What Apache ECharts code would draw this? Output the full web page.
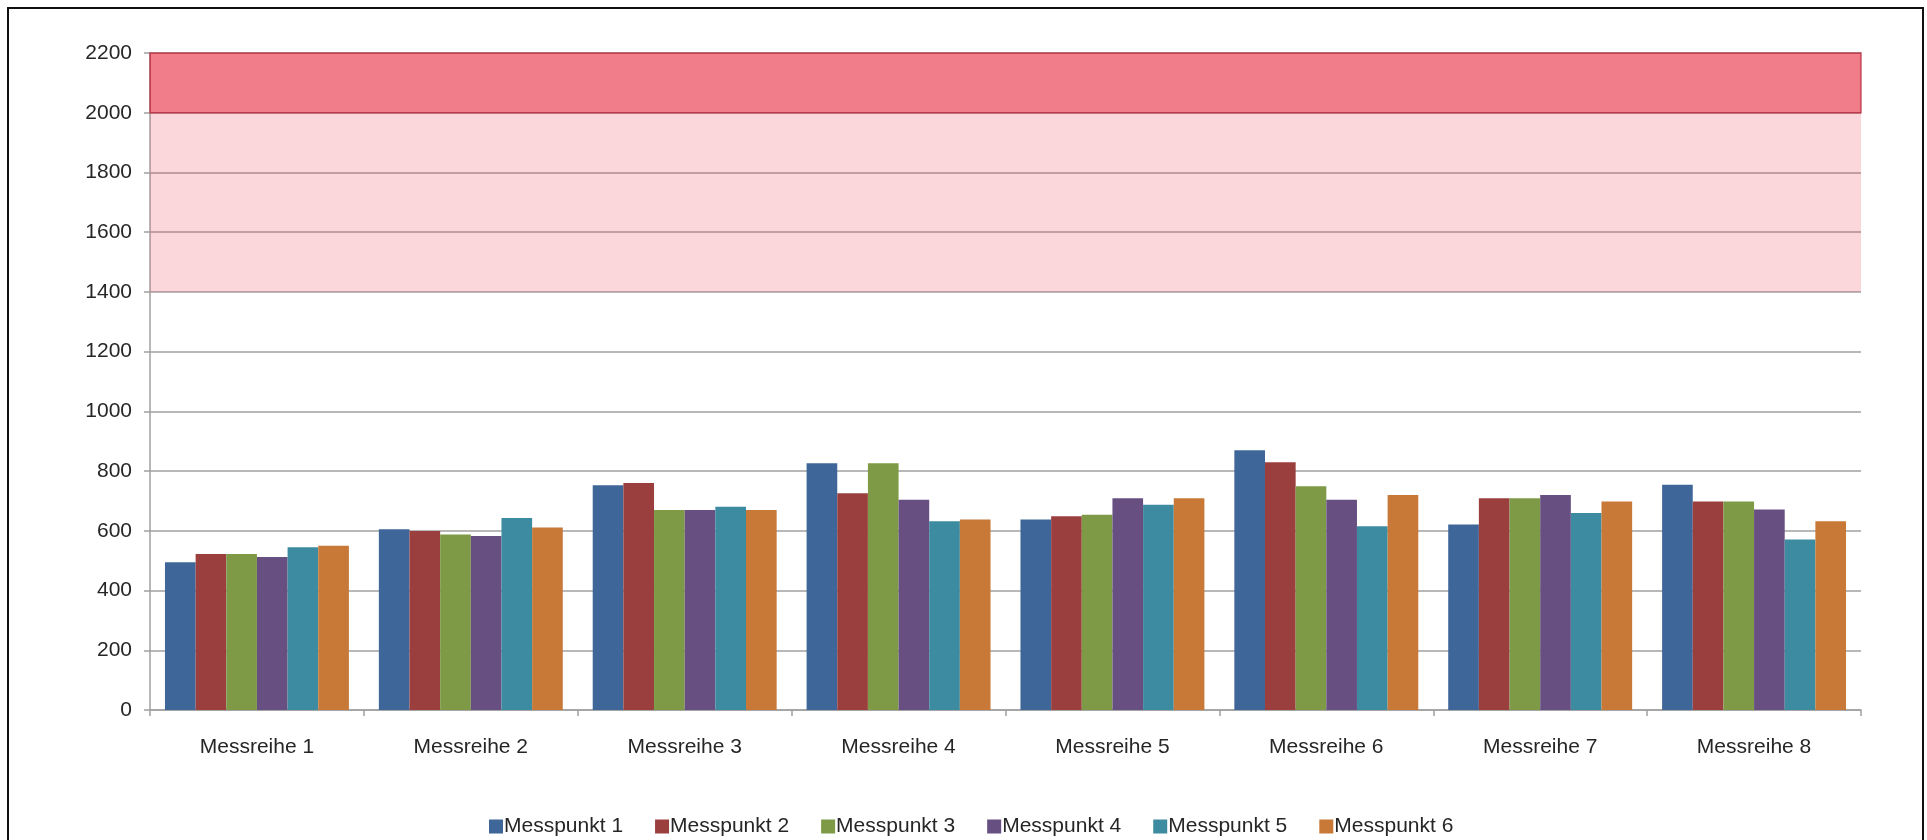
<!DOCTYPE html>
<html>
<head>
<meta charset="utf-8">
<script src="https://cdn.jsdelivr.net/npm/echarts@6/dist/echarts.min.js"></script>
<style>
html,body{margin:0;padding:0;background:#fff;}
#c{width:1927px;height:840px;}
</style>
</head>
<body>
<div id="c"></div>
<script>
const categories = ['Messreihe 1','Messreihe 2','Messreihe 3','Messreihe 4','Messreihe 5','Messreihe 6','Messreihe 7','Messreihe 8'];
const seriesNames = ['Messpunkt 1','Messpunkt 2','Messpunkt 3','Messpunkt 4','Messpunkt 5','Messpunkt 6'];
const messpunkt1 = [495, 605, 753, 826, 638, 870, 621, 754];
const messpunkt2 = [522, 599, 760, 726, 649, 830, 709, 698];
const messpunkt3 = [522, 588, 670, 826, 654, 749, 709, 698];
const messpunkt4 = [512, 583, 670, 704, 709, 704, 720, 671];
const messpunkt5 = [545, 643, 681, 632, 687, 615, 660, 571];
const messpunkt6 = [550, 611, 670, 638, 709, 720, 698, 632];
const yTicks = [0, 200, 400, 600, 800, 1000, 1200, 1400, 1600, 1800, 2000, 2200];
const warnBand = [1400, 2000];
const alarmBand = [2000, 2200];

const colors = ['#3F6698','#9B3F3E','#7E9A46','#674F82','#3C8BA0','#C87937'];
const values = [messpunkt1, messpunkt2, messpunkt3, messpunkt4, messpunkt5, messpunkt6];
const font = '"Liberation Sans", Arial, sans-serif';

const series = seriesNames.map((n, i) => {
  const s = {
    name: n, type: 'bar', data: values[i],
    barGap: '0%', barCategoryGap: '14%',
    itemStyle: { color: colors[i] }
  };
  if (i === 0) {
    s.markArea = {
      silent: true,
      data: [
        [{ yAxis: warnBand[0], itemStyle: { color: 'rgba(235,55,75,0.2)' } }, { yAxis: warnBand[1] }],
        [{ yAxis: alarmBand[0], itemStyle: { color: 'rgba(235,55,75,0.65)', borderColor: 'rgba(180,40,60,0.75)', borderWidth: 1.5 } }, { yAxis: alarmBand[1] }]
      ]
    };
  }
  return s;
});

const chart = echarts.init(document.getElementById('c'), null, { renderer: 'canvas' });
chart.setOption({
  animation: false,
  backgroundColor: '#fff',
  textStyle: { fontFamily: font },
  grid: { left: 150, right: 66, top: 53, bottom: 130, containLabel: false },
  legend: {
    data: seriesNames,
    top: 811,
    left: 484,
    icon: 'rect',
    itemWidth: 14, itemHeight: 14,
    itemGap: 32,
    textStyle: { fontSize: 21, color: '#262626', fontFamily: font, padding: [0, 0, 0, -4] }
  },
  xAxis: {
    type: 'category',
    data: categories,
    axisLine: { lineStyle: { color: '#a0a0a0', width: 1.5 } },
    axisTick: { show: true, length: 6, alignWithLabel: false, lineStyle: { color: '#a0a0a0', width: 1.5 } },
    axisLabel: { fontSize: 21, color: '#262626', margin: 27, fontFamily: font }
  },
  yAxis: {
    type: 'value',
    min: yTicks[0], max: yTicks[yTicks.length - 1], interval: 200,
    axisLine: { show: true, lineStyle: { color: '#a0a0a0', width: 1.5 } },
    axisTick: { show: true, length: 6, lineStyle: { color: '#a0a0a0', width: 1.5 } },
    axisLabel: { fontSize: 21, color: '#262626', margin: 18, fontFamily: font, formatter: v => String(v) },
    splitLine: { show: true, lineStyle: { color: '#a0a0a0', width: 1.5 } }
  },
  graphic: [{
    type: 'rect', silent: true,
    shape: { x: 8, y: 8, width: 1915, height: 845 },
    style: { fill: 'none', stroke: '#111', lineWidth: 2 }
  }],
  series: series
});
</script>
</body>
</html>
